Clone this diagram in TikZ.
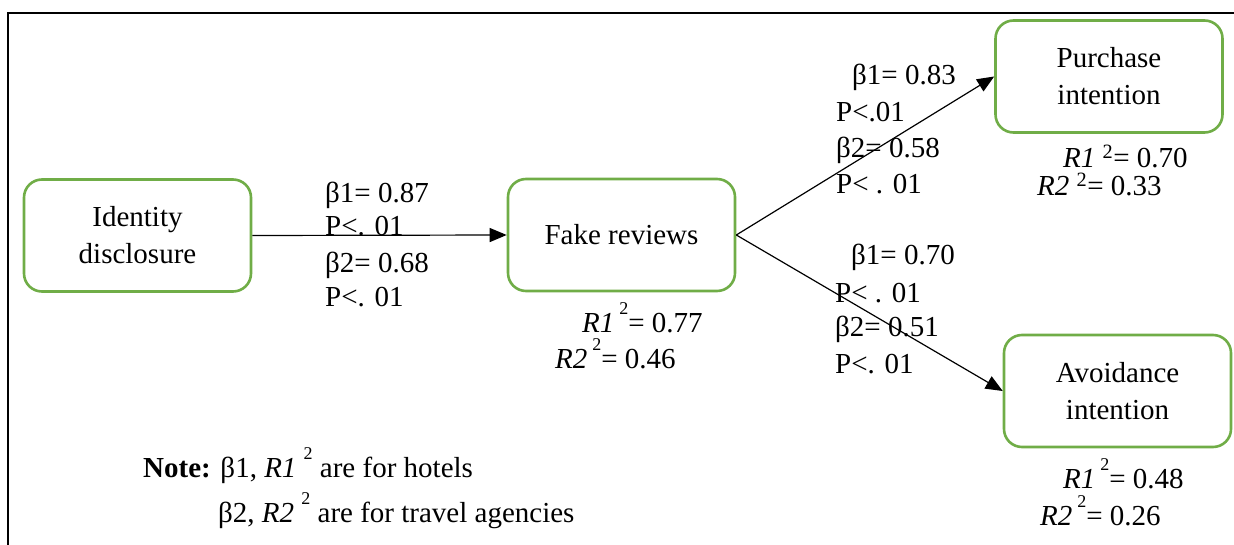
\documentclass[tikz,border=0pt]{standalone}
\usepackage{fontspec}
\setmainfont{Liberation Serif}
\usetikzlibrary{arrows.meta}
\definecolor{boxgreen}{HTML}{70AD47}
\newcommand{\sqr}{\textsuperscript{2}}
\newcommand{\hsqr}{\raisebox{0.62em}{\fontsize{18}{18}\selectfont 2}}
\begin{document}
\begin{tikzpicture}[x=1pt,y=-1pt,
  every node/.style={font=\fontsize{29}{37}\selectfont},
  varbox/.style={draw=boxgreen,line width=2.6pt,rounded corners=18pt,
    minimum width=227pt,minimum height=112pt,align=center,inner sep=0pt},
  lbl/.style={anchor=base west,inner sep=0pt},
  link/.style={line width=1.2pt,-{Triangle[length=17pt,width=14pt]}},
  frame/.style={line width=2pt}
]
\useasboundingbox (0,0) rectangle (1234,545);
\draw[frame] (8,545) -- (8,13) -- (1234,13);

\node[varbox] (id) at (137.5,235.5) {Identity\\disclosure};
\node[varbox] (fake) at (621.5,235) {Fake reviews};
\node[varbox] (pur) at (1109,76.5) {Purchase\\intention};
\node[varbox] (avo) at (1117.5,391) {Avoidance\\intention};

\draw[link] (id.east) -- (fake.west);
\draw[link] (fake.east) -- (pur.west);
\draw[link] (fake.east) -- (avo.west);

% path 1 labels
\node[lbl] (a1) at (325,203) {β1= 0.87};
\node[lbl] (a2) at (325,236) {P<. 01};
\node[lbl] (a3) at (325,273) {β2= 0.68};
\node[lbl] (a4) at (325,307) {P<. 01};

% path 2 labels
\node[lbl] (b1) at (852,85) {β1= 0.83};
\node[lbl] (b2) at (836,122) {P<.01};
\node[lbl] (b3) at (836,158) {β2= 0.58};
\node[lbl] (b4) at (836,194) {P< . 01};

% path 3 labels
\node[lbl] (c1) at (851,265) {β1= 0.70};
\node[lbl] (c2) at (835,302) {P< . 01};
\node[lbl] (c3) at (835,337) {β2= 0.51};
\node[lbl] (c4) at (835,373) {P<. 01};

% R squared
\node[lbl] (f1) at (582,332) {\textit{R1}\,\hsqr= 0.77};
\node[lbl] (f2) at (555,368) {\textit{R2}\,\hsqr= 0.46};
\node[lbl] (p1) at (1063,168) {\textit{R1} \sqr= 0.70};
\node[lbl] (p2) at (1037,196) {\textit{R2} \sqr= 0.33};
\node[lbl] (v1) at (1063,488) {\textit{R1}\,\hsqr= 0.48};
\node[lbl] (v2) at (1040,525) {\textit{R2}\,\hsqr= 0.26};

% note
\node[lbl] (n1) at (143,477) {\textbf{Note:} β1, \textit{R1} \hsqr\ are for hotels};
\node[lbl] (n2) at (218,522) {β2, \textit{R2} \hsqr\ are for travel agencies};
\end{tikzpicture}
\end{document}
